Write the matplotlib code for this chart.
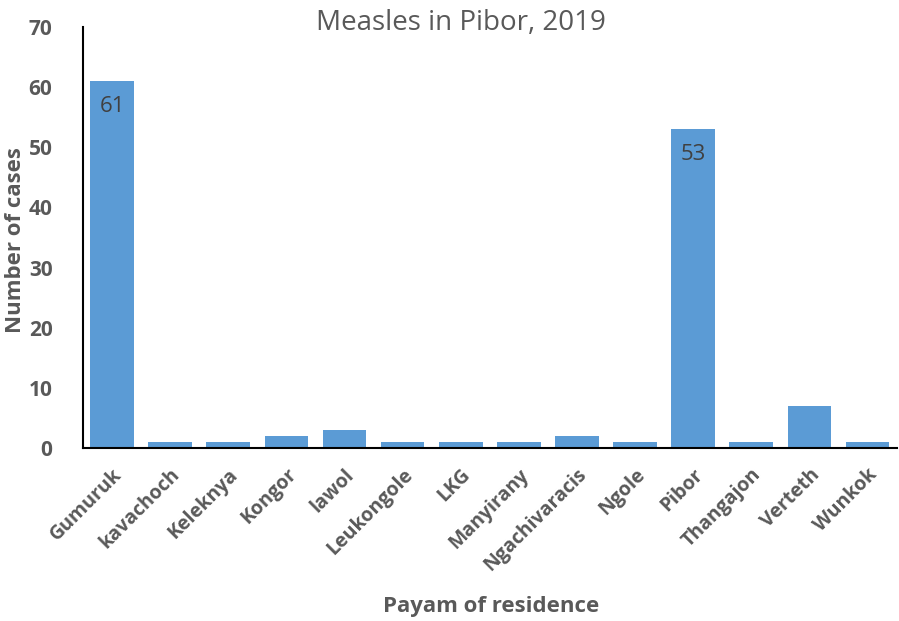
import matplotlib.pyplot as plt
import numpy as np

payams = ["Gumuruk", "kavachoch", "Keleknya", "Kongor", "lawol", "Leukongole", "LKG",
          "Manyirany", "Ngachivaracis", "Ngole", "Pibor", "Thangajon", "Verteth", "Wunkok"]
cases = [61, 1, 1, 2, 3, 1, 1, 1, 2, 1, 53, 1, 7, 1]
labelled = ["Gumuruk", "Pibor"]

plt.rcParams['font.family'] = ['Open Sans', 'DejaVu Sans']
grey = "#595959"

fig = plt.figure(figsize=(8.99, 6.21), dpi=100)
ax = fig.add_axes([0.0923, 0.2786, 0.905, 0.678])

x = np.arange(len(payams))
bars = ax.bar(x, cases, width=0.75, color="#5B9BD5")
ax.set_xlim(-0.5, len(payams) - 0.5)
ax.set_ylim(0, 70)
ax.set_yticks(range(0, 71, 10))

for b, name, v in zip(bars, payams, cases):
    if name in labelled:
        ax.text(b.get_x() + b.get_width() / 2, v - 2.4, str(v), ha="center", va="top",
                fontsize=16, color="#404040")

ax.set_xticks(x)
ax.set_xticklabels(payams, rotation=45, ha="right", rotation_mode="anchor",
                   fontsize=14, fontweight="bold", color=grey)
for t in ax.get_yticklabels():
    t.set_fontsize(15)
    t.set_fontweight("bold")
    t.set_color(grey)
ax.tick_params(length=0)
ax.tick_params(axis="x", pad=12)
ax.tick_params(axis="y", pad=22)

for s in ["top", "right"]:
    ax.spines[s].set_visible(False)
ax.spines["left"].set_linewidth(1.5)
ax.spines["bottom"].set_linewidth(1.5)

fig.text(0.513, 0.963, "Measles in Pibor, 2019", ha="center", va="center",
         fontsize=20, color=grey)
fig.text(0.017, 0.614, "Number of cases", rotation=90, ha="center", va="center",
         fontsize=16, fontweight="bold", color=grey)
fig.text(0.546, 0.024, "Payam of residence", ha="center", va="center",
         fontsize=16, fontweight="bold", color=grey)

fig.savefig("out.png", dpi=100)
